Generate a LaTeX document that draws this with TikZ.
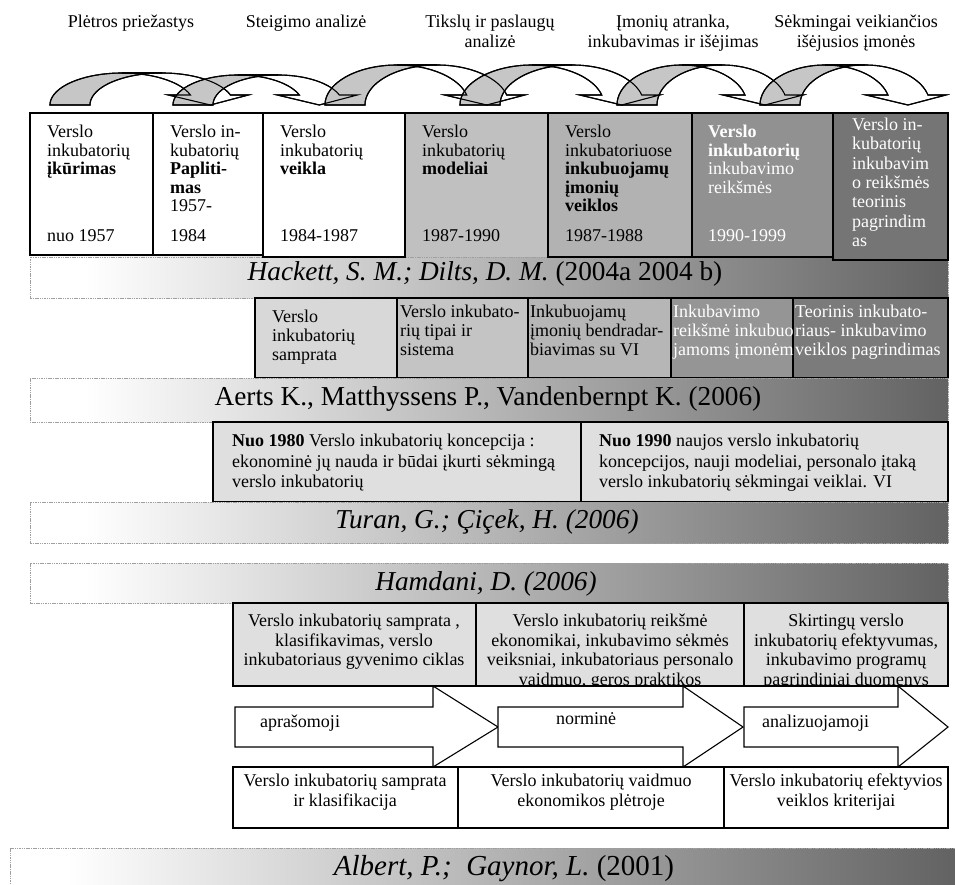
\documentclass[tikz,border=0pt]{standalone}
\usepackage{fontspec}
\setmainfont{Liberation Serif}
\definecolor{barend}{HTML}{626262}
\definecolor{arrgray}{HTML}{C6C6C6}
\definecolor{lightbox}{HTML}{DFDFDF}
\pgfdeclarehorizontalshading{barshade}{100bp}{color(0bp)=(white); color(28bp)=(white); color(75bp)=(barend); color(100bp)=(barend)}
\newcommand\curvedarrow[5]{%
  \pgfmathsetmacro\cvA{#1+#2}%
  \pgfmathsetmacro\cvB{#1+40+#2}%
  \pgfmathsetmacro\cvT{asin(10/#3)}%
  \pgfmathsetmacro\cvXa{\cvA+#2*cos(\cvT)}%
  \pgfmathsetmacro\cvXb{\cvB+#2*cos(\cvT)}%
  \pgfmathsetmacro\cvXt{(\cvXa+\cvXb)/2}%
  \path[#4] plot[domain=180:90,samples=40] ({\cvA+#2*cos(\x)},{105-#3*sin(\x)}) -- plot[domain=90:180,samples=40] ({\cvB+#2*cos(\x)},{105-#3*sin(\x)}) -- cycle;
  \path[#5] plot[domain=90:\cvT,samples=40] ({\cvA+#2*cos(\x)},{105-#3*sin(\x)}) -- (\cvXa-22,95) -- (\cvXt,105) -- (\cvXb+18,95) -- plot[domain=\cvT:90,samples=40] ({\cvB+#2*cos(\x)},{105-#3*sin(\x)}) -- cycle;
}
\tikzset{
  lbl/.style={inner sep=0pt, font=\fontsize{18}{20}\selectfont, align=center},
  btxt/.style={inner sep=0pt, anchor=north west, align=left, font=\fontsize{18}{18.5}\selectfont},
  wtxt/.style={btxt, text=white},
  ctxt/.style={inner sep=0pt, anchor=north, align=center, font=\fontsize{18}{19.5}\selectfont},
  bartxt/.style={inner sep=0pt, anchor=base, font=\fontsize{27.3}{30}\selectfont},
  bar/.style={draw=gray!75, dash pattern=on 1.5pt off 0.8pt, line width=0.8pt, shading=barshade},
  boxline/.style={draw=black, line width=1.4pt},
  backfill/.style={fill=arrgray, draw=black, line width=1.1pt},
  frontfill/.style={fill=white, draw=black, line width=1.1pt},
  outl/.style={draw=black, line width=1.1pt},
  blockarrow/.style={draw=black, fill=white, line width=1.1pt, line join=miter}
}
\begin{document}
\begin{tikzpicture}[x=1pt,y=-1pt]
\useasboundingbox (0,0) rectangle (955,885);
\fill[white] (0,0) rectangle (955,885);

% top labels
\node[lbl, anchor=north] (t1) at (131,15) {Plėtros priežastys};
\node[lbl, anchor=north] (t2) at (306,15) {Steigimo analizė};
\node[lbl, anchor=north] (t3) at (490,15) {Tikslų ir paslaugų\\analizė};
\node[lbl, anchor=north] (t4) at (673,15) {Įmonių atranka,\\inkubavimas ir išėjimas};
\node[lbl, anchor=north] (t5) at (856,15) {Sėkmingai veikiančios\\išėjusios įmonės};

% curved arrows
\curvedarrow{50}{72}{32}{backfill}{frontfill}
\curvedarrow{173}{65}{30}{backfill}{frontfill}
\curvedarrow{325}{72}{40}{backfill}{frontfill}
\curvedarrow{460}{72}{40}{backfill}{frontfill}
\curvedarrow{617}{65}{40}{backfill}{frontfill}
\curvedarrow{760}{65}{40}{backfill}{frontfill}
\curvedarrow{50}{72}{32}{outl}{outl}
\curvedarrow{173}{65}{30}{outl}{outl}
\curvedarrow{325}{72}{40}{outl}{outl}
\curvedarrow{460}{72}{40}{outl}{outl}
\curvedarrow{617}{65}{40}{outl}{outl}
\curvedarrow{760}{65}{40}{outl}{outl}

% Hackett bar and row 1
\shadedraw[bar] (30,257) rectangle (948,298);
\node[bartxt] (hackett) at (485,280) {\textit{Hackett, S. M.; Dilts, D. M.} (2004a 2004 b)};
\fill[white] (30,113) rectangle (405,255);
\fill[fill={rgb,255:red,192;green,192;blue,192}] (405,113) rectangle (548,257);
\draw[boxline] (30,113) -- (948,113);
\draw[boxline] (30,113) rectangle (153,255);
\draw[boxline] (153,113) rectangle (263,255);
\draw[boxline] (263,113) rectangle (405,257);
\draw[boxline, fill={rgb,255:red,178;green,178;blue,178}] (548,113) rectangle (692,257);
\draw[boxline, fill={rgb,255:red,145;green,145;blue,145}] (692,113) rectangle (833,257);
\draw[boxline, fill={rgb,255:red,117;green,117;blue,117}] (833,113) rectangle (948,260);

\node[btxt] (r1a) at (47,125) {Verslo\\inkubatorių\\\textbf{įkūrimas}};
\node[btxt, anchor=base west] (r1ay) at (47,242) {nuo 1957};
\node[btxt] (r1b) at (170,125) {Verslo in-\\kubatorių\\\textbf{Papliti-}\\\textbf{mas}\\1957-};
\node[btxt, anchor=base west] (r1by) at (170,242) {1984};
\node[btxt] (r1c) at (280,125) {Verslo\\inkubatorių\\\textbf{veikla}};
\node[btxt, anchor=base west] (r1cy) at (280,242) {1984-1987};
\node[btxt] (r1d) at (422,125) {Verslo\\inkubatorių\\\textbf{modeliai}};
\node[btxt, anchor=base west] (r1dy) at (422,242) {1987-1990};
\node[btxt] (r1e) at (565,125) {Verslo\\inkubatoriuose\\\textbf{inkubuojamų}\\\textbf{įmonių}\\\textbf{veiklos}};
\node[btxt, anchor=base west] (r1ey) at (565,242) {1987-1988};
\node[wtxt] (r1f) at (708,125) {\textbf{Verslo}\\\textbf{inkubatorių}\\inkubavimo\\reikšmės};
\node[wtxt, anchor=base west] (r1fy) at (708,242) {1990-1999};
\node[wtxt, font=\fontsize{18}{19.3}\selectfont] (r1g) at (852,118) {Verslo in-\\kubatorių\\inkubavim\\o reikšmės\\teorinis\\pagrindim\\as};

% row 2 (Aerts)
\draw[boxline, fill={rgb,255:red,216;green,216;blue,216}] (255,298) rectangle (397,378);
\draw[boxline, fill={rgb,255:red,196;green,196;blue,196}] (397,298) rectangle (528,378);
\draw[boxline, fill={rgb,255:red,182;green,182;blue,182}] (528,298) rectangle (671,378);
\draw[boxline, fill={rgb,255:red,149;green,149;blue,149}] (671,298) rectangle (793,378);
\draw[boxline, fill={rgb,255:red,123;green,123;blue,123}] (793,298) rectangle (948,378);
\node[btxt, font=\fontsize{18}{19}\selectfont] (r2a) at (272,310) {Verslo\\inkubatorių\\samprata};
\node[btxt, font=\fontsize{18}{19}\selectfont] (r2b) at (400,305) {Verslo inkubato-\\rių tipai ir\\sistema};
\node[btxt, font=\fontsize{18}{19}\selectfont] (r2c) at (530,305) {Inkubuojamų\\įmonių bendradar-\\biavimas su VI};
\node[wtxt, font=\fontsize{18}{19}\selectfont] (r2d) at (673,305) {Inkubavimo\\reikšmė inkubuo\\jamoms įmonėm};
\node[wtxt, font=\fontsize{18}{19}\selectfont] (r2e) at (795,305) {Teorinis inkubato-\\riaus- inkubavimo\\veiklos pagrindimas};
\shadedraw[bar] (30,378) rectangle (948,422);
\node[bartxt] (aerts) at (488,405) {Aerts K., Matthyssens P., Vandenbernpt K. (2006)};

% row 3 (Turan)
\draw[boxline, fill=lightbox] (213,422) rectangle (581,502);
\draw[boxline, fill=lightbox] (581,422) rectangle (948,502);
\node[btxt, font=\fontsize{18}{20.5}\selectfont] (r3a) at (232,434) {\textbf{Nuo 1980} Verslo inkubatorių koncepcija :\\ekonominė jų nauda ir būdai įkurti sėkmingą\\verslo inkubatorių};
\node[btxt, font=\fontsize{18}{20.5}\selectfont] (r3b) at (599,434) {\textbf{Nuo 1990} naujos verslo inkubatorių\\koncepcijos, nauji modeliai, personalo įtaką\\verslo inkubatorių sėkmingai veiklai. VI};
\shadedraw[bar] (30,502) rectangle (948,543);
\node[bartxt] (turan) at (487,528) {\textit{Turan, G.; Çiçek, H. (2006)}};

% Hamdani
\shadedraw[bar] (30,563) rectangle (948,603);
\node[bartxt] (hamdani) at (486,590) {\textit{Hamdani, D. (2006)}};
\draw[boxline, fill=lightbox] (233,603) rectangle (476,686);
\draw[boxline, fill=lightbox] (476,603) rectangle (744,686);
\draw[boxline, fill=lightbox] (744,603) rectangle (948,686);
\begin{scope}
\clip (233,603) rectangle (948,685);
\node[ctxt] (h1) at (354,614) {Verslo inkubatorių samprata ,\\klasifikavimas, verslo\\inkubatoriaus gyvenimo ciklas};
\node[ctxt] (h2) at (610,614) {Verslo inkubatorių reikšmė\\ekonomikai, inkubavimo sėkmės\\veiksniai, inkubatoriaus personalo\\vaidmuo, geros praktikos};
\node[ctxt] (h3) at (846,614) {Skirtingų verslo\\inkubatorių efektyvumas,\\inkubavimo programų\\pagrindiniai duomenys};
\end{scope}
\draw[boxline] (233,603) rectangle (476,686);
\draw[boxline] (476,603) rectangle (744,686);
\draw[boxline] (744,603) rectangle (948,686);

% block arrows
\path[blockarrow] (235,707) -- (433,707) -- (433,686) -- (498,727) -- (433,767) -- (433,747) -- (235,747) -- cycle;
\path[blockarrow] (498,707) -- (683,707) -- (683,686) -- (743,727) -- (683,767) -- (683,747) -- (498,747) -- cycle;
\path[blockarrow] (744,707) -- (898,707) -- (898,686) -- (948,727) -- (898,767) -- (898,747) -- (744,747) -- cycle;
\node[inner sep=0pt, anchor=base, font=\fontsize{18}{20}\selectfont] (a1) at (300,727) {aprašomoji};
\node[inner sep=0pt, anchor=base, font=\fontsize{18}{20}\selectfont] (a2) at (586,724) {norminė};
\node[inner sep=0pt, anchor=base west, font=\fontsize{18}{20}\selectfont] (a3) at (762,727) {analizuojamoji};

% bottom boxes
\draw[boxline, line width=1.1pt, fill=white] (233,767) rectangle (458,828);
\draw[boxline, line width=1.1pt, fill=white] (458,767) rectangle (724,828);
\draw[boxline, line width=1.1pt, fill=white] (724,767) rectangle (948,828);
\node[ctxt, font=\fontsize{18}{20}\selectfont] (b1) at (345,774) {Verslo inkubatorių samprata\\ir klasifikacija};
\node[ctxt, font=\fontsize{18}{20}\selectfont] (b2) at (591,774) {Verslo inkubatorių vaidmuo\\ekonomikos plėtroje};
\node[ctxt, font=\fontsize{18}{20}\selectfont] (b3) at (836,774) {Verslo inkubatorių efektyvios\\veiklos kriterijai};

% Albert bar
\shadedraw[bar] (10,848) rectangle (956,886);
\node[bartxt, font=\fontsize{29}{32}\selectfont] (albert) at (504,875) {\textit{Albert, P.;\ \ Gaynor, L.} (2001)};
\end{tikzpicture}
\end{document}
